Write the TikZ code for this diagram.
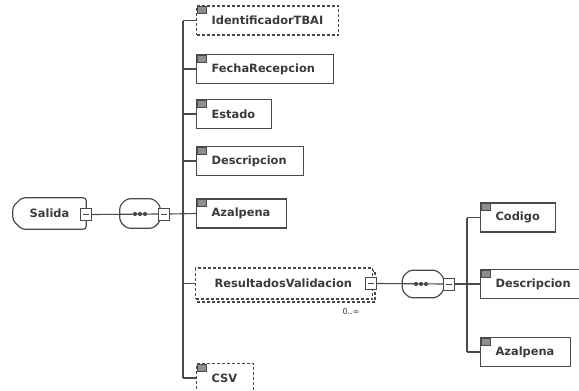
\documentclass[tikz,border=0pt]{standalone}
\usepackage{fontspec}
\setmainfont{DejaVu Sans}
\usetikzlibrary{calc}
\definecolor{boxc}{HTML}{4A4A4A}
\definecolor{txtc}{HTML}{3A3A3A}
\definecolor{icoc}{HTML}{8E8E8E}
\newcommand\lbl[2]{\makebox[#1][l]{#2}}
\begin{document}
\begin{tikzpicture}[x=1pt,y=-1pt,
  elfont/.style={font=\bfseries\fontsize{11.4}{12}\selectfont, text=txtc},
  elbox/.style={elfont, draw=boxc, line width=1.2pt, fill=white, inner xsep=15pt, inner ysep=0pt,
    minimum height=29pt, anchor=west},
  optbox/.style={elbox, dash pattern=on 3pt off 2pt},
  optline/.style={draw=boxc, line width=1.2pt, dash pattern=on 3pt off 2pt},
  conn/.style={draw=boxc, line width=1.1pt},
  shp/.style={draw=boxc, line width=1.2pt, rounded corners=3pt},
  icon/.style={fill=icoc, draw=boxc, line width=0.4pt},
  expander/.style={draw=boxc, line width=1pt, fill=white, minimum width=11pt, minimum height=12pt, inner sep=0pt,
    path picture={\draw[boxc, line width=0.8pt] ([xshift=-3pt]path picture bounding box.center) -- ([xshift=3pt]path picture bounding box.center);}}
]
\fill[white] (0,0) rectangle (579,391);
\useasboundingbox (0,0) rectangle (579,391);

% root element
\node[elfont, minimum width=73pt, minimum height=31pt, inner sep=0pt] (sal) at (49.5,213.5) {Salida};
\draw[shp] ($(sal.north west)+(9,0)$) -- (sal.north east) -- (sal.south east) -- ($(sal.south west)+(9,0)$)
  -- ($(sal.south west)+(0,-9)$) -- ($(sal.north west)+(0,9)$) -- cycle;
\node[expander] (salx) at (86,214.5) {};

% sequence 1
\node[minimum width=40pt, minimum height=29pt, inner sep=0pt] (seq1) at (140,213.5) {};
\draw[shp] ($(seq1.north west)+(7,0)$) -- ($(seq1.north east)+(-7,0)$) -- ($(seq1.north east)+(0,7)$)
  -- ($(seq1.south east)+(0,-7)$) -- ($(seq1.south east)+(-7,0)$) -- ($(seq1.south west)+(7,0)$)
  -- ($(seq1.south west)+(0,-7)$) -- ($(seq1.north west)+(0,7)$) -- cycle;
\node[expander] (s1x) at (164,214) {};
\draw[conn] (salx.east) -- (s1x.west);
\foreach \dx in {135,140,145} \fill[boxc] (\dx,214) circle (2.1);

% children of sequence 1
\node[optbox] (ident) at (196,20.5) {\lbl{112pt}{IdentificadorTBAI}};
\node[elbox] (fecha) at (196,69) {\lbl{107pt}{FechaRecepcion}};
\node[elbox] (estado) at (196,114) {\lbl{45pt}{Estado}};
\node[elbox] (desc) at (196,161) {\lbl{77pt}{Descripcion}};
\node[elbox] (azal) at (196,213.5) {\lbl{60pt}{Azalpena}};
\draw[optline] (198,271) rectangle (375,302);
\node[optbox, inner xsep=19pt, minimum height=31pt] (rv) at (195,283.5) {\lbl{139pt}{ResultadosValidacion}};
\node[optbox] (csv) at (196,378) {\lbl{27pt}{CSV}};
\node[expander] (rvx) at ($(rv.east)+(-2,0)$) {};
\node[font=\fontsize{8}{9}\selectfont, text=txtc, inner sep=0pt] (occ) at (351,311.5) {0..∞};

\coordinate (t1) at (183,213.5);
\draw[conn] (s1x.east) -- (azal.west);
\draw[conn] (ident.west -| t1) -- (csv.west -| t1);
\foreach \n in {ident,fecha,estado,desc,rv,csv} \draw[conn] (\n.west) -- (\n.west -| t1);

% sequence 2
\node[minimum width=41pt, minimum height=27pt, inner sep=0pt] (seq2) at (423,284) {};
\draw[shp] ($(seq2.north west)+(7,0)$) -- ($(seq2.north east)+(-7,0)$) -- ($(seq2.north east)+(0,7)$)
  -- ($(seq2.south east)+(0,-7)$) -- ($(seq2.south east)+(-7,0)$) -- ($(seq2.south west)+(7,0)$)
  -- ($(seq2.south west)+(0,-7)$) -- ($(seq2.north west)+(0,7)$) -- cycle;
\node[expander] (s2x) at (449,284) {};
\draw[conn] (rvx.east) -- (s2x.west);
\foreach \dx in {416,421,426} \fill[boxc] (\dx,284) circle (2.1);

\node[elbox] (cod) at (480,217.5) {\lbl{45pt}{Codigo}};
\node[elbox] (desc2) at (480,284) {\lbl{80pt}{Descripcion}};
\node[elbox] (azal2) at (480,352) {\lbl{60pt}{Azalpena}};

\coordinate (t2) at (467,284);
\draw[conn] (s2x.east) -- (desc2.west);
\draw[conn] (cod.west -| t2) -- (azal2.west -| t2);
\foreach \n in {cod,desc2,azal2} \draw[conn] (\n.west) -- (\n.west -| t2);

% icons
\foreach \n in {ident,fecha,estado,desc,azal,csv,cod,desc2,azal2}
  \draw[icon] ($(\n.north west)+(1.5,1)$) rectangle ++(9,7);
\end{tikzpicture}
\end{document}
